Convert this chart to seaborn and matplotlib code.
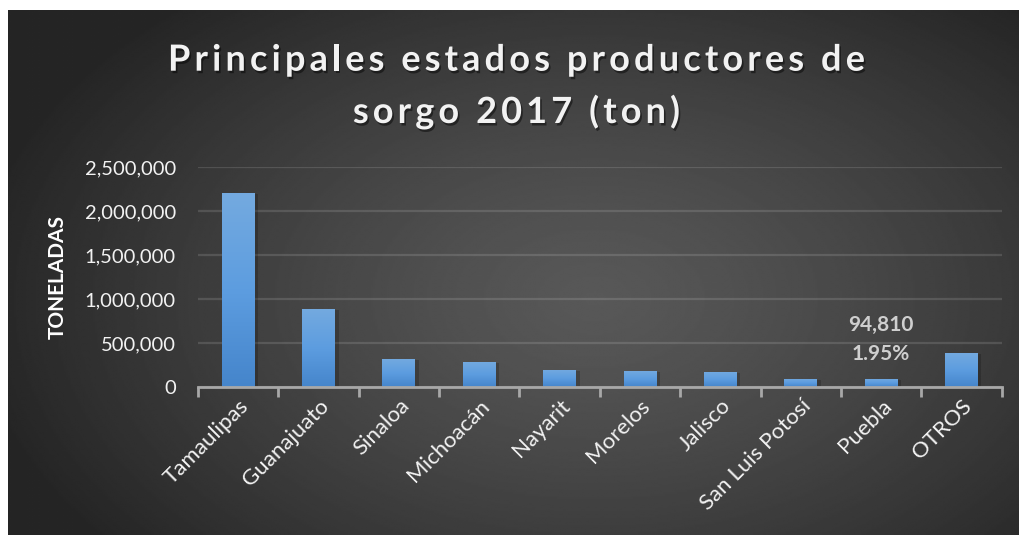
import numpy as np
import pandas as pd
import matplotlib
matplotlib.use("Agg")
import matplotlib.pyplot as plt
import matplotlib.patheffects as pe
from matplotlib.ticker import FuncFormatter, MultipleLocator
from matplotlib.colors import LinearSegmentedColormap
import seaborn as sns

estados = ["Tamaulipas", "Guanajuato", "Sinaloa", "Michoacán", "Nayarit",
           "Morelos", "Jalisco", "San Luis Potosí", "Puebla", "OTROS"]
toneladas = [2211000, 890000, 322000, 287000, 197000,
             185000, 174000, 96000, 94810, 390000]
anotacion_valor = "94,810"
anotacion_pct = "1.95%"
titulo_lineas = ["Principales estados productores de", "sorgo 2017 (ton)"]
eje_y = "TONELADAS"

df = pd.DataFrame({"estado": estados, "ton": toneladas})

sns.set_theme(style="dark")
plt.rcParams["font.family"] = ["Lato", "DejaVu Sans"]

W, H = 1020, 537
fig = plt.figure(figsize=(W / 100, H / 100), dpi=100, facecolor="white")

# background radial gradient panel
bg = fig.add_axes([8 / W, 1 - 535 / H, (W - 8) / W, (535 - 10) / H])
bg.set_axis_off()
yy, xx = np.mgrid[0:1:300j, 0:1:600j]
r = np.sqrt(((xx - 0.58) / 0.62) ** 2 + ((yy - 0.55) / 0.75) ** 2)
r = np.clip(r, 0, 1)
center, edge = 0.345, 0.145
img = center - (center - edge) * r ** 1.3
bg.imshow(img, cmap="gray", vmin=0, vmax=1, aspect="auto",
          extent=[0, 1, 0, 1], interpolation="bilinear")
bg.set_xlim(0, 1)
bg.set_ylim(0, 1)

ax = fig.add_axes([198 / W, 1 - 387.3 / H, (1001.7 - 198) / W, (387.3 - 167.3) / H])
ax.set_facecolor("none")

sns.barplot(data=df, x="estado", y="ton", ax=ax, color="#5b9bd5",
            width=0.41, saturation=1, zorder=3)

# vertical gradient on bars
grad = np.linspace(0, 1, 256).reshape(-1, 1)
cmap = LinearSegmentedColormap.from_list("bar", ["#4585cb", "#5d9de0", "#74aadf"])
for p in ax.patches:
    x0, y0 = p.get_x(), p.get_y()
    w, h = p.get_width(), p.get_height()
    p.set_path_effects([pe.SimplePatchShadow(offset=(2.5, -1), alpha=0.18, shadow_rgbFace="black")])
    im = ax.imshow(grad, cmap=cmap, aspect="auto", origin="lower",
                   extent=[x0, x0 + w, y0, y0 + h], zorder=4)
    im.set_clip_path(p)

ax.set_xlim(-0.5, len(estados) - 0.5)
ax.set_ylim(0, 2500000)
ax.yaxis.set_major_locator(MultipleLocator(500000))
ax.yaxis.set_major_formatter(FuncFormatter(lambda v, _: f"{int(v):,}"))
ax.grid(axis="y", color="#ffffff", alpha=0.13, lw=1.6, zorder=1)
ax.grid(axis="x", visible=False)

for s in ["top", "right", "left"]:
    ax.spines[s].set_visible(False)
ax.spines["bottom"].set_color("#a8a8a8")
ax.spines["bottom"].set_linewidth(2)
ax.spines["bottom"].set_zorder(5)

ax.set_xticks(np.arange(-0.5, len(estados), 1.0), minor=True)
ax.tick_params(axis="x", which="minor", length=7, width=2, color="#a8a8a8", bottom=True)
ax.tick_params(axis="x", which="major", length=0, pad=6)
ax.tick_params(axis="y", length=0, pad=16, labelsize=14.5, labelcolor="#f2f2f2")
ax.set_xticks(range(len(estados)))
ax.set_xticklabels(estados, rotation=45, ha="right", rotation_mode="anchor",
                   fontsize=16, color="#f2f2f2")
ax.set_xlabel("")
ax.set_ylabel(eje_y, fontsize=15, fontweight="bold", color="white", va="center")
ax.yaxis.set_label_coords((57.5 - 198) / (1001.7 - 198), 0.5)

# annotation on Puebla
idx = estados.index("Puebla")
txt_kw = dict(ha="center", va="center", fontsize=15, fontweight="bold", color="#cfcfcf")
ax.text(idx, 708000, anotacion_valor, **txt_kw)
ax.text(idx, 373000, anotacion_pct, **txt_kw)

# letter-spaced title
renderer = fig.canvas.get_renderer()
tkw = dict(fontsize=26, fontweight="bold", color="#f2f2f2")


def text_width(s):
    t = fig.text(0, 0, s, **tkw)
    w = t.get_window_extent(renderer).width
    t.remove()
    return w


def char_positions(line):
    pos = []
    for i, c in enumerate(line):
        if c == " ":
            pos.append(None)
            continue
        pos.append(text_width(line[:i + 1]) - text_width(c))
    return pos, text_width(line)


target_w = 865 - 168
p0, w0 = char_positions(titulo_lineas[0])
spacing = (target_w - w0) / (len(titulo_lineas[0]) - 1)
baselines = [70.7, 123.0]
shadow = [pe.withSimplePatchShadow(offset=(1.2, -1.8), alpha=0.45, shadow_rgbFace="black")]
for line, yb in zip(titulo_lineas, baselines):
    pos, wl = char_positions(line)
    total = wl + spacing * (len(line) - 1)
    xs = 516.5 - total / 2
    for i, (c, px) in enumerate(zip(line, pos)):
        if px is None:
            continue
        fig.text((xs + px + i * spacing) / W, 1 - yb / H, c, ha="left", va="baseline",
                 path_effects=shadow, **tkw)

fig.savefig("out.png", dpi=100, facecolor="white")
